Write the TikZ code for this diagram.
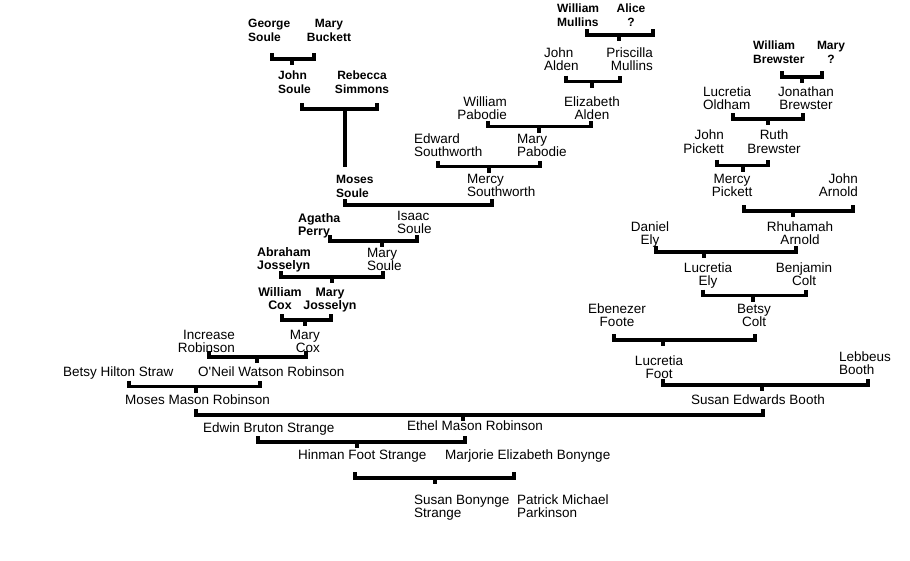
\documentclass[tikz,border=0pt]{standalone}
\usepackage{fontspec}
\setmainfont{Liberation Sans}
\tikzset{
  person/.style={inner sep=0pt, font=\fontsize{13.5}{13.5}\selectfont},
  elder/.style={inner sep=0pt, font=\bfseries\fontsize{12}{14}\selectfont},
  heavy/.style={inner sep=0pt, font=\bfseries\fontsize{12.4}{13}\selectfont},
  lft/.style={anchor=base west, align=left},
  rgt/.style={anchor=base east, align=right},
  mid/.style={anchor=base, align=center},
  couple/.style={line width=3.1pt},
}
\begin{document}
\begin{tikzpicture}[x=1pt,y=-1pt]

    \useasboundingbox (0,0) rectangle (910,560);

    % brackets: left / right / child tick / height
    \foreach \l/\r/\t/\y in {272/314/292/59, 302/377/345/109, 587/653/619/35,
                             566/620/592/81.5, 488/591/539/126.7, 438/540/489/166.7,
                             330/417/382/241, 281/383/332/277, 282/331/305/320,
                             209/306/257/357, 129/260/196/386.5, 196/763/463/415,
                             258/465/357/442, 355/514/435/478,
                             782/822/802/77, 733/803/768/119, 717/768/743/165.5,
                             744/853/793/211, 656/796/704/252, 703/806/753/295.5,
                             614/755/663/340, 663/868/762/385} {
        \draw[couple] (\l,\y-6) -- (\l,\y) -- (\r,\y) -- (\r,\y-6);
        \draw[couple] (\t,\y) -- (\t,\y+6);
    }
    \draw[couple] (345,109) -- (345,167);
    \draw[couple] (345,199) -- (345,205) -- (492,205) -- (492,199);

    % Soule line
    \node (georgesoule)    [elder, lft] at (248,41.5) {George \\ Soule};
    \node (marybuckett)    [elder, mid] at (329,41.5) {Mary \\ Buckett};
    \node (johnsoule)      [elder, lft] at (278,93.5) {John \\ Soule};
    \node (rebeccasimmons) [elder, mid] at (362,93.5) {Rebecca \\ Simmons};
    \node (mosessoule)     [elder, lft] at (336,197.5) {Moses \\ Soule};

    % Mullins, Alden, Pabodie, Southworth
    \node (williammullins)   [elder, lft]  at (557,26) {William \\ Mullins};
    \node (alice)            [elder, mid]  at (631,26) {Alice \\ ?};
    \node (johnalden)        [person, lft] at (544,70.5) {John \\ Alden};
    \node (priscillamullins) [person, rgt] at (653,70.5) {Priscilla \\ Mullins};
    \node (elizabethalden)   [person, mid] at (592,119.5) {Elizabeth \\ Alden};
    \node (williampabodie)   [person, rgt] at (507,119.5) {William \\ Pabodie};
    \node (marypabodie)      [person, lft] at (517,156.5) {Mary \\ Pabodie};
    \node (edwardsouthworth) [person, lft] at (414,156.5) {Edward \\ Southworth};
    \node (mercysouthworth)  [person, lft] at (467,196.5) {Mercy \\ Southworth};

    % Perry, Josselyn, Cox, Robinson
    \node (agathaperry)     [heavy, lft]  at (298,235.5) {Agatha \\ Perry};
    \node (isaacsoule)      [person, lft] at (397,233.5) {Isaac \\ Soule};
    \node (abrahamjosselyn) [heavy, lft]  at (257,269) {Abraham \\ Josselyn};
    \node (marysoule)       [person, lft] at (367,270.5) {Mary \\ Soule};
    \node (williamcox)      [heavy, mid]  at (280,309.5) {William \\ Cox};
    \node (maryjosselyn)    [heavy, mid]  at (330,309.5) {Mary \\ Josselyn};
    \node (increase)        [person, rgt] at (235,352.5) {Increase \\ Robinson};
    \node (marycox)         [person, rgt] at (320,352.5) {Mary \\ Cox};
    \node (betsystraw)      [person, lft] at (63,376) {Betsy Hilton Straw};
    \node (oneilrobinson)   [person, lft] at (198,376) {O\textquotesingle Neil Watson Robinson};
    \node (mosesrobinson)   [person, lft] at (125,404) {Moses Mason Robinson};

    % Brewster, Pickett, Arnold, Ely, Colt, Foote, Booth
    \node (williambrewster)   [elder, lft]  at (753,63.5) {William \\ Brewster};
    \node (marybrewster)      [elder, mid]  at (831,63.5) {Mary \\ ?};
    \node (lucretiaoldham)    [person, lft] at (703,109.5) {Lucretia \\ Oldham};
    \node (jonathanbrewster)  [person, mid] at (806,109.5) {Jonathan \\ Brewster};
    \node (johnpickett)       [person, rgt] at (724,153) {John \\ Pickett};
    \node (ruthbrewster)      [person, mid] at (774,153) {Ruth \\ Brewster};
    \node (mercypickett)      [person, mid] at (732,196.5) {Mercy \\ Pickett};
    \node (johnarnold)        [person, rgt] at (858,196.5) {John \\ Arnold};
    \node (danielely)         [person, mid] at (650,244.5) {Daniel \\ Ely};
    \node (rhuhamaharnold)    [person, mid] at (800,244.5) {Rhuhamah \\ Arnold};
    \node (lucretiaely)       [person, mid] at (708,285.5) {Lucretia \\ Ely};
    \node (benjamincolt)      [person, mid] at (804,285.5) {Benjamin \\ Colt};
    \node (ebenezerfoote)     [person, mid] at (617,326.5) {Ebenezer \\ Foote};
    \node (betsycolt)         [person, mid] at (754,326.5) {Betsy \\ Colt};
    \node (lucretiafoot)      [person, mid] at (659,378.5) {Lucretia \\ Foot};
    \node (lebbeusbooth)      [person, lft] at (839,374.5) {Lebbeus \\ Booth};
    \node (susanbooth)        [person, lft] at (691,404.5) {Susan Edwards Booth};

    % Strange
    \node (edwinstrange)    [person, lft] at (203,432.5) {Edwin Bruton Strange};
    \node (ethelrobinson)   [person, lft] at (407,430) {Ethel Mason Robinson};
    \node (hinmanstrange)   [person, lft] at (298,459) {Hinman Foot Strange};
    \node (marjoriebonynge) [person, lft] at (445,459) {Marjorie Elizabeth Bonynge};
    \node (susanstrange)    [person, lft] at (414,517.5) {Susan Bonynge \\ Strange};
    \node (patrickparkinson) [person, lft] at (517,517.5) {Patrick Michael \\ Parkinson};

\end{tikzpicture}
\end{document}
